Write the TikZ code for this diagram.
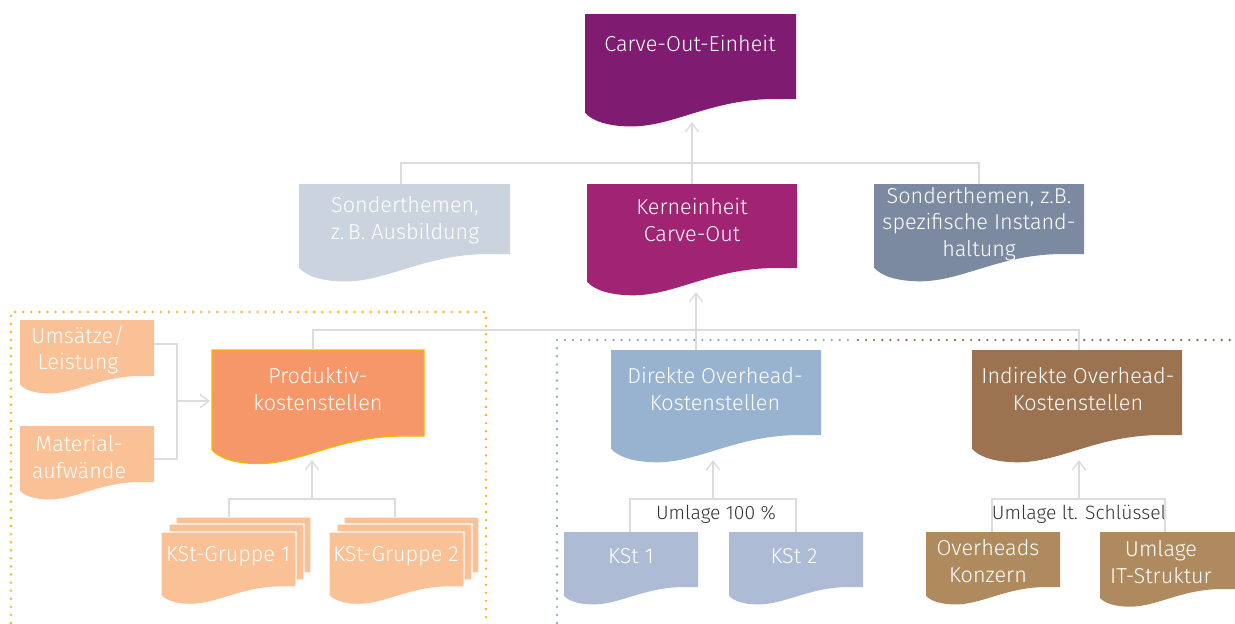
\documentclass[tikz,border=0pt]{standalone}
\usepackage{fontspec}
\setmainfont{Fira Sans Light}
\usetikzlibrary{arrows.meta}
\definecolor{cPurple}{HTML}{7F1B71}
\definecolor{cMagenta}{HTML}{A12373}
\definecolor{cGreyL}{HTML}{CBD3DF}
\definecolor{cSlate}{HTML}{7B8AA0}
\definecolor{cOrange}{HTML}{F59769}
\definecolor{cOrBorder}{HTML}{F7B500}
\definecolor{cPeach}{HTML}{FAC196}
\definecolor{cBlue}{HTML}{98B3CF}
\definecolor{cBlueL}{HTML}{AEBBD5}
\definecolor{cBrown}{HTML}{9C7350}
\definecolor{cBrownL}{HTML}{AE8A5E}
\definecolor{cLine}{HTML}{DCDCDC}
\definecolor{cDotOr}{HTML}{F7B21C}
\definecolor{cDotBl}{HTML}{8FAACC}
\definecolor{cDotBr}{HTML}{A0704F}
\definecolor{cLab}{HTML}{333333}
\newcommand{\docshape}[5]{%
  \path[#5] (#1,#3) -- (#2,#3) -- (#2,#4) -- ({#2-0.1*(#2-#1)},#4)
  .. controls ({#1+0.6*(#2-#1)},#4) and ({#1+0.42*(#2-#1)},{#4+0.13*(#2-#1)}) .. ({#1+0.22*(#2-#1)},{#4+0.13*(#2-#1)})
  .. controls ({#1+0.1*(#2-#1)},{#4+0.13*(#2-#1)}) and ({#1+0.03*(#2-#1)},{#4+0.1*(#2-#1)}) .. (#1,{#4+0.065*(#2-#1)}) -- cycle;}
\begin{document}
\begin{tikzpicture}[x=0.02cm,y=-0.02cm,
  txt/.style={text=white,align=center,inner sep=0pt,font=\fontsize{12.3}{15.2}\selectfont},
  lab/.style={text=cLab,align=center,inner sep=0pt,font=\fontsize{11}{13}\selectfont},
  conn/.style={draw=cLine,line width=0.9pt},
  arr/.style={-{Straight Barb[length=5pt,width=7.5pt,line width=0.8pt]}},
  dotline/.style={line width=1.5pt,line cap=round,dash pattern=on 0pt off 4.6pt},
  stack/.style={fill=cPeach,draw=white,line width=0.8pt}]
\useasboundingbox (0,0) rectangle (1235,623);
% dotted frames
\draw[dotline,draw=cDotOr] (11,623) -- (11,312) -- (486,312) -- (486,623);
\draw[dotline,draw=cDotBl] (557,623) -- (557,340) -- (854,340);
\draw[dotline,draw=cDotBr] (858,340) -- (1235,340);
% shapes
\docshape{585}{796}{14}{99}{fill=cPurple}
\docshape{299}{510}{184}{254}{fill=cGreyL}
\docshape{587}{797}{184}{268}{fill=cMagenta}
\docshape{874}{1084}{184}{254}{fill=cSlate}
\docshape{20}{154}{320}{376}{fill=cPeach}
\docshape{20}{154}{426}{482}{fill=cPeach}
\docshape{212}{424}{350}{436}{fill=cOrange,draw=cOrBorder,line width=0.7pt}
\docshape{611}{821}{350}{435}{fill=cBlue}
\docshape{972}{1182}{350}{435}{fill=cBrown}
\docshape{176}{311}{517}{573}{stack}
\docshape{169}{304}{524}{580}{stack}
\docshape{161}{296}{532}{587}{stack}
\docshape{344}{479}{517}{573}{stack}
\docshape{337}{472}{524}{580}{stack}
\docshape{329}{464}{532}{587}{stack}
\docshape{564}{698}{532}{587}{fill=cBlueL}
\docshape{729}{863}{532}{587}{fill=cBlueL}
\docshape{926}{1060}{532}{587}{fill=cBrownL}
\docshape{1100}{1236}{532}{589}{fill=cBrownL}
% texts
\node[txt] (co) at (690,43) {Carve-Out-Einheit};
\node[txt] (sl) at (405,220) {Sonderthemen,\\z.\,B. Ausbildung};
\node[txt] (ke) at (692,220) {Kerneinheit\\Carve-Out};
\node[txt] (sr) at (979,224) {Sonderthemen, z.B.\\spezifische Instand-\\haltung};
\node[txt] (um) at (78,350) {Umsätze/\\Leistung};
\node[txt] (ma) at (79,457) {Material-\\aufwände};
\node[txt] (pk) at (318,389) {Produktiv-\\kostenstellen};
\node[txt] (do) at (715,389) {Direkte Overhead-\\Kostenstellen};
\node[txt] (io) at (1078,389) {Indirekte Overhead-\\Kostenstellen};
\node[txt] (g1) at (228,556) {KSt-Gruppe 1};
\node[txt] (g2) at (396,556) {KSt-Gruppe 2};
\node[txt] (k1) at (631,556) {KSt 1};
\node[txt] (k2) at (794,556) {KSt 2};
\node[txt] (ok) at (988,561) {Overheads\\Konzern};
\node[txt] (ui) at (1161,562) {Umlage\\IT-Struktur};
\node[lab] (l1) at (716,514) {Umlage 100 \%};
\node[lab] (l2) at (1079,514) {Umlage lt. Schlüssel};
% connector anchors
\coordinate (co-s) at (692,122);
\coordinate (ke-n) at (692,184);
\coordinate (bus1) at (692,163);
\coordinate (sl-n) at (401,184);
\coordinate (sr-n) at (979,184);
\coordinate (ke-s) at (696,292);
\coordinate (bus2) at (696,330);
\coordinate (pk-n) at (313,350);
\coordinate (do-n) at (696,350);
\coordinate (io-n) at (1079,350);
\coordinate (um-e) at (154,344);
\coordinate (ma-e) at (154,459);
\coordinate (j1) at (177,401);
\coordinate (pk-w) at (210,401);
\coordinate (j2) at (312,499);
\coordinate (pk-s) at (312,460);
\coordinate (g1-n) at (229,517);
\coordinate (g2-n) at (395,517);
\coordinate (j3) at (713,499);
\coordinate (do-s) at (713,460);
\coordinate (k1-n) at (630,532);
\coordinate (k2-n) at (796,532);
\coordinate (j4) at (1079,499);
\coordinate (io-s) at (1079,460);
\coordinate (ok-n) at (992,532);
\coordinate (ui-n) at (1165,532);
% connectors
\draw[conn,arr] (ke-n) -- (co-s);
\draw[conn] (sl-n) |- (bus1) -| (sr-n);
\draw[conn] (pk-n) |- (bus2) -| (io-n);
\draw[conn] (do-n) -- (bus2);
\draw[conn,arr] (bus2) -- (ke-s);
\draw[conn] (um-e) -| (j1) |- (ma-e);
\draw[conn,arr] (j1) -- (pk-w);
\draw[conn] (g1-n) |- (j2) -| (g2-n);
\draw[conn,arr] (j2) -- (pk-s);
\draw[conn] (k1-n) |- (j3) -| (k2-n);
\draw[conn,arr] (j3) -- (do-s);
\draw[conn] (ok-n) |- (j4) -| (ui-n);
\draw[conn,arr] (j4) -- (io-s);
\end{tikzpicture}
\end{document}
